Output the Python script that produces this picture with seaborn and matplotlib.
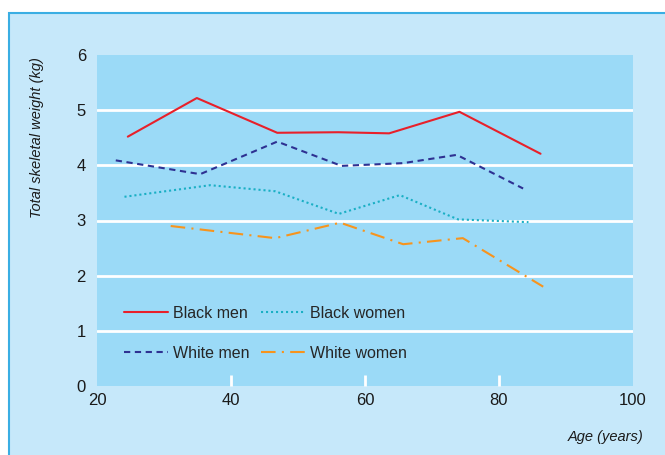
import pandas as pd
import seaborn as sns
import matplotlib.pyplot as plt
from matplotlib.patches import Rectangle

# values (age midpoint, skeletal weight in kg)
black_men_age = [24.6, 34.9, 46.9, 56.0, 63.6, 74.1, 86.2]
black_men_kg = [4.52, 5.22, 4.59, 4.60, 4.58, 4.97, 4.21]

white_men_age = [22.8, 35.4, 46.9, 56.5, 65.7, 73.7, 83.6]
white_men_kg = [4.09, 3.84, 4.43, 3.99, 4.04, 4.19, 3.58]

black_women_age = [24.1, 36.9, 46.6, 56.1, 65.2, 73.9, 84.4]
black_women_kg = [3.43, 3.64, 3.53, 3.12, 3.46, 3.02, 2.97]

white_women_age = [31.0, 46.6, 56.3, 65.7, 74.6, 86.6]
white_women_kg = [2.90, 2.68, 2.96, 2.57, 2.68, 1.80]

groups = ["Black men", "White men", "Black women", "White women"]
colors = {"Black men": "#e8202a", "White men": "#2e3192",
          "Black women": "#1aafc4", "White women": "#f7941d"}
dashes = {"Black men": "", "White men": (3, 2.2),
          "Black women": (1, 1.4), "White women": (7, 3, 1, 3)}

frames = []
for g, a, w in [("Black men", black_men_age, black_men_kg),
                ("White men", white_men_age, white_men_kg),
                ("Black women", black_women_age, black_women_kg),
                ("White women", white_women_age, white_women_kg)]:
    frames.append(pd.DataFrame({"age": a, "kg": w, "group": g}))
df = pd.concat(frames, ignore_index=True)

sns.set_style("white")
plt.rcParams["font.family"] = ["Liberation Sans Narrow", "Liberation Sans", "DejaVu Sans"]

fig = plt.figure(figsize=(6.65, 4.55), dpi=100, facecolor="white")
# light blue panel behind the chart
fig.patches.append(Rectangle((9 / 665, -0.1), 1.2, (455 - 13) / 455 + 0.1,
                             transform=fig.transFigure, facecolor="#c6e8fa",
                             edgecolor="#3aaee3", linewidth=1.5, zorder=-5))

ax = fig.add_axes([97 / 665, (455 - 386) / 455, 536 / 665, 331 / 455])
ax.set_facecolor("#9bdaf7")

sns.lineplot(data=df, x="age", y="kg", hue="group", style="group",
             hue_order=groups, style_order=groups, palette=colors,
             dashes=dashes, linewidth=1.5, ax=ax, sort=False)

ax.set_xlim(20, 100)
ax.set_ylim(0, 6)
ax.set_xticks([20, 40, 60, 80, 100])
ax.set_yticks(range(7))
for v in range(1, 6):
    ax.axhline(v, color="white", linewidth=2, zorder=1)
for s in ax.spines.values():
    s.set_visible(False)
ax.tick_params(axis="x", bottom=True, direction="in", length=8, width=2,
               color="white", labelsize=12, pad=5)
ax.tick_params(axis="y", left=False, length=0, labelsize=12, pad=8)
xt = ax.xaxis.get_major_ticks()
xt[0].tick1line.set_visible(False)
xt[-1].tick1line.set_visible(False)
for t in ax.get_xticklabels() + ax.get_yticklabels():
    t.set_color("#1a1a1a")
ax.set_xlabel("")
ax.set_ylabel("")

fig.text(37 / 665, (455 - 57) / 455, "Total skeletal weight (kg)", rotation=90,
         ha="center", va="top", style="italic", fontsize=10.5, color="#1a1a1a")
fig.text(643 / 665, (455 - 437) / 455, "Age (years)", ha="right", va="center",
         style="italic", fontsize=10.5, color="#1a1a1a")

handles, labels = ax.get_legend_handles_labels()
ax.legend(handles, labels, ncol=2, loc="center left",
          bbox_to_anchor=(0.035, 0.159), frameon=False, fontsize=11.5,
          handlelength=2.8, handletextpad=0.3, labelspacing=1.55,
          columnspacing=0.7, borderpad=0)

fig.savefig("out.png", dpi=100)
